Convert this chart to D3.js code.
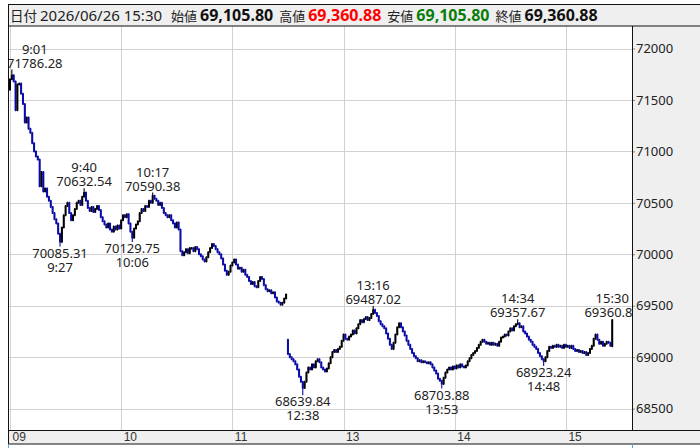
<!DOCTYPE html>
<html>
<head>
<meta charset="utf-8">
<script src="https://cdn.jsdelivr.net/npm/d3@7"></script>
<style>
  body { margin: 0; background: #fff; }
  svg { display: block; }
</style>
</head>
<body>
<svg id="chart"></svg>
<script>
// ---- data ----
const sessionStamp = "2026/06/26 15:30";

// 1-minute closes, morning session 9:00 - 11:29
const morningOpen = 71600;
const morningClose = [
  71700, 71740, 71680, 71400, 71650, 71660, 71560, 71460, 71280, 71330,
  71220, 71180, 71080, 71000, 70950, 70920, 70660, 70800, 70610, 70640,
  70560, 70520, 70460, 70400, 70340, 70300, 70200, 70120, 70260, 70380,
  70470, 70500, 70400, 70330, 70380, 70440, 70500, 70520, 70480, 70560,
  70600, 70520, 70450, 70420, 70460, 70410, 70440, 70470, 70430, 70360,
  70320, 70290, 70260, 70300, 70240, 70220, 70270, 70240, 70280, 70250,
  70330, 70380, 70360, 70390, 70300, 70220, 70160, 70250, 70290, 70320,
  70400, 70440, 70420, 70470, 70460, 70520, 70500, 70570, 70540, 70520,
  70480, 70500, 70450, 70400, 70380, 70360, 70380, 70330, 70300, 70260,
  70310, 70240, 70030, 69990, 70020, 70050, 70010, 70060, 70060, 70030,
  70070, 70050, 70000, 69980, 69950, 69930, 69970, 70020, 70060, 70100,
  70080, 70050, 70020, 70000, 69960, 69900, 69840, 69800, 69830, 69890,
  69920, 69950, 69900, 69860, 69870, 69830, 69850, 69800, 69780, 69740,
  69710, 69730, 69690, 69680, 69740, 69780, 69760, 69700, 69660, 69640,
  69650, 69620, 69630, 69580, 69540, 69530, 69510, 69530, 69570, 69610
];

// 1-minute closes, afternoon session 12:30 - 15:24
const afternoonOpen = 69170;
const afternoonClose = [
  69030, 69000, 68980, 68960, 68930, 68880, 68810, 68760, 68700, 68760,
  68850, 68900, 68880, 68930, 68900, 68960, 68980, 68950, 68900, 68880,
  68860, 68890, 68940, 69000, 69050, 69070, 69050, 69080, 69100, 69160,
  69220, 69180, 69170, 69200, 69220, 69260, 69230, 69280, 69320, 69360,
  69340, 69370, 69390, 69360, 69380, 69420, 69460, 69430, 69400, 69350,
  69320, 69300, 69280, 69230, 69180, 69120, 69080, 69140, 69220, 69290,
  69330, 69290, 69250, 69210, 69160, 69120, 69080, 69040, 69010, 68990,
  68960, 68970, 68950, 68960, 68950, 68940, 68950, 68930, 68900, 68870,
  68840, 68790, 68770, 68740, 68800, 68850, 68880, 68900, 68880, 68910,
  68890, 68920, 68900, 68930, 68910, 68900, 68920, 68960, 68990, 69020,
  69040, 69060, 69090, 69120, 69150, 69170, 69150, 69130, 69140, 69120,
  69140, 69120, 69130, 69110, 69150, 69190, 69200, 69220, 69210, 69250,
  69280, 69260, 69300, 69320, 69330, 69290, 69300, 69250, 69230, 69200,
  69170, 69150, 69120, 69100, 69080, 69040, 69010, 68980, 68960, 69000,
  69060, 69100, 69090, 69110, 69100, 69120, 69100, 69110, 69090, 69120,
  69100, 69110, 69090, 69110, 69080, 69060, 69070, 69050, 69060, 69040,
  69050, 69020, 69040, 69080, 69110, 69180, 69220, 69170, 69130, 69150,
  69110, 69130, 69150, 69140, 69110
];

// closing auction candle (also shown in the header)
const closingAuction = { time: "15:30", open: 69105.80, high: 69360.88, low: 69105.80, close: 69360.88 };

// labelled highs and lows
const extremes = [
  { time: "9:01",  price: 71786.28, side: "high" },
  { time: "9:27",  price: 70085.31, side: "low" },
  { time: "9:40",  price: 70632.54, side: "high" },
  { time: "10:06", price: 70129.75, side: "low" },
  { time: "10:17", price: 70590.38, side: "high" },
  { time: "12:38", price: 68639.84, side: "low" },
  { time: "13:16", price: 69487.02, side: "high" },
  { time: "13:53", price: 68703.88, side: "low" },
  { time: "14:34", price: 69357.67, side: "high" },
  { time: "14:48", price: 68923.24, side: "low" },
  { time: "15:30", price: 69360.88, side: "high" }
];

const priceTicks = [68500, 69000, 69500, 70000, 70500, 71000, 71500, 72000];
const hourTicks = ["09", "10", "11", "13", "14", "15"];

// ---- build candles ----
const fmtTime = min => `${Math.floor(min / 60)}:${String(min % 60).padStart(2, "0")}`;
const fmtPrice = d3.format(",.2f");

const candles = [];
let prev = morningOpen;
morningClose.forEach((c, i) => {
  candles.push({ slot: i, time: fmtTime(540 + i), open: prev, close: c });
  prev = c;
});
prev = afternoonOpen;
afternoonClose.forEach((c, i) => {
  candles.push({ slot: morningClose.length + i, time: fmtTime(750 + i), open: prev, close: c });
  prev = c;
});
candles.push({ slot: morningClose.length + afternoonClose.length, ...closingAuction });
candles.forEach(d => {
  if (d.high == null) d.high = Math.max(d.open, d.close);
  if (d.low == null) d.low = Math.min(d.open, d.close);
});
extremes.forEach(e => {
  const d = candles.find(c => c.time === e.time);
  if (e.side === "high") d.high = Math.max(d.high, e.price);
  else d.low = Math.min(d.low, e.price);
  e.slot = d.slot;
});

// hour -> trading-minute slot (lunch break 11:30-12:30 removed)
const hourSlot = h => (h <= 11 ? (h - 9) * 60 : (h - 9) * 60 - 60);

// ---- layout ----
const width = 700, height = 448;
const plot = { left: 8, right: 632, top: 26, bottom: 430.5 };
const headerTop = 4.5, bandBottom = 444;
const bg = "#efefef";

const x = d3.scaleLinear().domain([0, 330]).range([10, 10 + 330 * 1.853]);
const y = d3.scaleLinear().domain([68500, 72000]).range([408.6, 48.5]);

const svg = d3.select("#chart")
  .attr("width", width)
  .attr("height", height)
  .attr("viewBox", [0, 0, width, height])
  .style("font-family", "'Noto Sans', 'Noto Sans CJK JP', sans-serif");

svg.append("defs").append("clipPath").attr("id", "plotClip")
  .append("rect")
  .attr("x", plot.left).attr("y", plot.top)
  .attr("width", plot.right - plot.left).attr("height", plot.bottom - plot.top);

// header
svg.append("rect")
  .attr("x", plot.left).attr("y", headerTop)
  .attr("width", width - plot.left).attr("height", plot.top - headerTop)
  .attr("fill", bg);

const header = svg.append("g").attr("transform", "translate(0,21)");
const headerParts = [
  { text: "日付", size: 13.5, weight: "normal", color: "#222", gap: 3 },
  { text: sessionStamp, size: 15, weight: "normal", color: "#222", gap: 9 },
  { text: "始値", size: 13, weight: "normal", color: "#222", gap: 3 },
  { text: fmtPrice(closingAuction.open), size: 16, weight: "bold", color: "#111", gap: 6 },
  { text: "高値", size: 13, weight: "normal", color: "#222", gap: 3 },
  { text: fmtPrice(closingAuction.high), size: 16, weight: "bold", color: "#ff0000", gap: 6 },
  { text: "安値", size: 13, weight: "normal", color: "#222", gap: 3 },
  { text: fmtPrice(closingAuction.low), size: 16, weight: "bold", color: "#0a7d0a", gap: 6 },
  { text: "終値", size: 13, weight: "normal", color: "#222", gap: 3 },
  { text: fmtPrice(closingAuction.close), size: 16, weight: "bold", color: "#111", gap: 6 }
];
let hx = 10;
headerParts.forEach(p => {
  const t = header.append("text")
    .attr("x", hx)
    .attr("font-size", p.size)
    .attr("font-weight", p.weight)
    .attr("fill", p.color)
    .text(p.text);
  hx += t.node().getComputedTextLength() + p.gap;
});

// plot grid
const grid = svg.append("g").attr("stroke", "#d2d2d2").attr("stroke-width", 1);
grid.selectAll("line.h")
  .data(priceTicks)
  .join("line")
  .attr("x1", plot.left).attr("x2", plot.right)
  .attr("y1", d => Math.round(y(d)) + 0.5).attr("y2", d => Math.round(y(d)) + 0.5);
grid.selectAll("line.v")
  .data(hourTicks)
  .join("line")
  .attr("x1", d => Math.round(x(hourSlot(+d))) + 0.5).attr("x2", d => Math.round(x(hourSlot(+d))) + 0.5)
  .attr("y1", plot.top).attr("y2", plot.bottom);

// candles
const upColor = "#000", downColor = "#0a0aa8";
const candleG = svg.append("g").attr("clip-path", "url(#plotClip)");
const cg = candleG.selectAll("g")
  .data(candles)
  .join("g")
  .attr("fill", d => d.close >= d.open ? upColor : downColor)
  .attr("stroke", d => d.close >= d.open ? upColor : downColor);
cg.append("line")
  .attr("x1", d => x(d.slot)).attr("x2", d => x(d.slot))
  .attr("y1", d => y(d.high) - 1).attr("y2", d => y(d.low) + 1)
  .attr("stroke-width", 1.1);
cg.append("rect")
  .attr("stroke", "none")
  .attr("x", d => x(d.slot) - 1)
  .attr("width", 2)
  .attr("y", d => y(Math.max(d.open, d.close)) - 0.5)
  .attr("height", d => Math.max(2, Math.abs(y(d.open) - y(d.close)) + 1));

// high / low annotations: one text with two lines each
const labelG = svg.append("g")
  .attr("clip-path", "url(#plotClip)")
  .attr("font-size", 13)
  .attr("fill", "#222")
  .attr("text-anchor", "middle");
extremes.forEach(e => {
  const py = y(e.price);
  const lines = e.side === "high"
    ? [e.time, e.price.toFixed(2)]
    : [e.price.toFixed(2), e.time];
  const top = e.side === "high" ? py - 21.5 : py + 7.5;
  const t = labelG.append("text").attr("y", top).attr("dy", "0.35em");
  const spans = lines.map((s, i) => t.append("tspan")
    .attr("dy", i === 0 ? null : 14)
    .text(s));
  const w = d3.max(spans, s => s.node().getComputedTextLength());
  let cx = x(e.slot);
  if (cx - w / 2 < plot.left - 1) cx = plot.left - 1 + w / 2;
  spans.forEach(s => s.attr("x", cx));
});

// right price axis panel
svg.append("rect")
  .attr("x", plot.right).attr("y", plot.top)
  .attr("width", width - plot.right).attr("height", plot.bottom - plot.top)
  .attr("fill", bg);
svg.append("g")
  .attr("transform", `translate(${plot.right},0)`)
  .call(d3.axisRight(y).tickValues(priceTicks).tickSize(3).tickPadding(1).tickFormat(d3.format("d")))
  .call(g => g.select(".domain").remove())
  .call(g => g.selectAll(".tick line").attr("stroke", "#888"))
  .call(g => g.selectAll(".tick text")
    .attr("font-family", "'Noto Sans', sans-serif")
    .attr("font-size", 13)
    .attr("fill", "#222"));

// bottom time band
svg.append("rect")
  .attr("x", plot.left).attr("y", plot.bottom)
  .attr("width", width - plot.left).attr("height", bandBottom - plot.bottom)
  .attr("fill", bg);
svg.append("g")
  .attr("transform", `translate(0,${plot.bottom})`)
  .call(d3.axisBottom(x)
    .tickValues(hourTicks.map(h => hourSlot(+h)))
    .tickFormat((d, i) => hourTicks[i])
    .tickSize(0))
  .call(g => g.select(".domain").remove())
  .call(g => g.selectAll(".tick text")
    .attr("text-anchor", "start")
    .attr("x", 2)
    .attr("y", 2)
    .attr("dy", "0.71em")
    .attr("font-family", "'Liberation Sans Narrow', 'Liberation Sans', sans-serif")
    .attr("font-size", 12)
    .attr("fill", "#333"));

// frame lines
const frame = svg.append("g").attr("stroke", "#111").attr("stroke-width", 1);
frame.append("line").attr("x1", plot.left).attr("x2", width).attr("y1", headerTop).attr("y2", headerTop);
frame.append("line").attr("x1", plot.left).attr("x2", width).attr("y1", plot.top).attr("y2", plot.top);
frame.append("line").attr("x1", plot.left).attr("x2", width).attr("y1", plot.bottom).attr("y2", plot.bottom);
frame.append("line").attr("x1", plot.left).attr("x2", width).attr("y1", bandBottom).attr("y2", bandBottom);
frame.append("line").attr("x1", plot.left + 0.5).attr("x2", plot.left + 0.5).attr("y1", headerTop).attr("y2", bandBottom);
frame.append("line").attr("x1", plot.right + 0.5).attr("x2", plot.right + 0.5).attr("y1", plot.top).attr("y2", plot.bottom);
const below = svg.append("g").attr("stroke", "#4aa8e8").attr("stroke-width", 1);
below.append("line").attr("x1", plot.left + 0.5).attr("x2", plot.left + 0.5).attr("y1", bandBottom).attr("y2", height);
below.append("line").attr("x1", plot.right + 0.5).attr("x2", plot.right + 0.5).attr("y1", bandBottom).attr("y2", height);
</script>
</body>
</html>
